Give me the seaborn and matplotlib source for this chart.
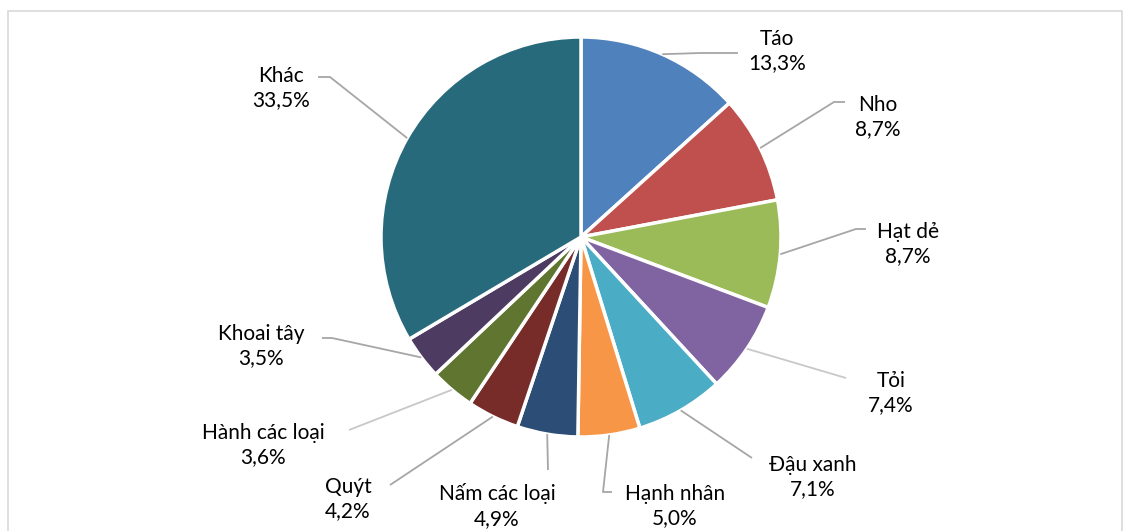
import numpy as np
import matplotlib
matplotlib.use("Agg")
import matplotlib.pyplot as plt
import seaborn as sns
from matplotlib.patches import Rectangle

# ---- data ----
categories = ["Táo", "Nho", "Hạt dẻ", "Tỏi", "Đậu xanh", "Hạnh nhân",
              "Nấm các loại", "Quýt", "Hành các loại", "Khoai tây", "Khác"]
shares = [13.3, 8.7, 8.7, 7.4, 7.1, 5.0, 4.9, 4.2, 3.6, 3.5, 33.5]
pct_labels = ["13,3%", "8,7%", "8,7%", "7,4%", "7,1%", "5,0%",
              "4,9%", "4,2%", "3,6%", "3,5%", "33,5%"]

# ---- style ----
colors = ["#4F81BD", "#C0504D", "#9BBB59", "#8064A2", "#4BACC6", "#F79646",
          "#2C4D75", "#772C2A", "#5F7530", "#4D3B62", "#276A7C"]

# layout (pixel positions): label centre, leader elbow, leader end
label_pos = [(777, 51), (878, 117), (908, 244), (891, 393), (813, 477),
             (675, 506), (497, 506), (348, 499), (263, 445), (261, 346), (281, 88)]
elbow_pos = [(700, 53), (834, 102), (856, 229), (846, 378), (752, 458),
             (603, 492), (548, 470), (390, 485), (349, 430), (332, 338), (330, 77)]
end_pos = [(738, 53), (845, 102), (866, 229), (846, 378), (752, 458),
           (612, 492), (548, 470), (390, 485), (349, 430), (322, 338), (318, 77)]
leader_colors = ["#A6A6A6"] * 3 + ["#C8C8C8"] + ["#A6A6A6"] * 4 + ["#C8C8C8"] + ["#A6A6A6"] * 2

W, H = 1131, 531
CX, CY, R = 581, 237, 200

sns.set_theme(style="white")
plt.rcParams['font.family'] = ['Lato', 'DejaVu Sans']

fig = plt.figure(figsize=(W / 100, H / 100), dpi=100)
ax = fig.add_axes([0, 0, 1, 1])


def px(p):
    return ((p[0] - CX) / R, (CY - p[1]) / R)


wedges, _ = ax.pie(shares, colors=colors, startangle=90, counterclock=False,
                   radius=1.0, center=(0, 0),
                   wedgeprops=dict(edgecolor="white", linewidth=2.5))
ax.set_aspect("auto")
ax.set_xlim(-CX / R, (W - CX) / R)
ax.set_ylim((CY - H) / R, CY / R)
ax.axis("off")

for i, w in enumerate(wedges):
    ang = np.deg2rad((w.theta1 + w.theta2) / 2)
    sx, sy = np.cos(ang), np.sin(ang)
    ex, ey = px(elbow_pos[i])
    fx, fy = px(end_pos[i])
    ax.plot([sx, ex, fx], [sy, ey, fy], color=leader_colors[i], lw=1.3,
            solid_capstyle="butt", zorder=1)
    lx, ly = px(label_pos[i])
    ax.text(lx, ly, f"{categories[i]}\n{pct_labels[i]}", ha="center",
            va="center", fontsize=15, color="#000000", linespacing=1.3)

fig.patches.append(Rectangle((8 / W, -0.05), (1122 - 8) / W, (H - 11) / H + 0.05,
                             transform=fig.transFigure, fill=False,
                             edgecolor="#D9D9D9", lw=1.2))

fig.savefig("out.png", dpi=100)
